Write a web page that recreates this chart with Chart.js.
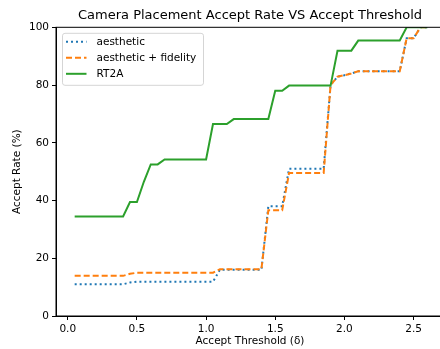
<!DOCTYPE html>
<html>
<head>
<meta charset="utf-8">
<script src="https://cdn.jsdelivr.net/npm/chart.js@4.4.1/dist/chart.umd.min.js"></script>
<style>
  html, body { margin: 0; padding: 0; background: #fff; overflow: hidden; }
  #wrap { width: 448px; height: 349px; }
</style>
</head>
<body>
<div id="wrap"><canvas id="chart" width="448" height="349"></canvas></div>
<script>
// accept threshold values (x)
const thresholds = [0.05, 0.10, 0.15, 0.20, 0.25, 0.30, 0.35, 0.40, 0.45, 0.50,
  0.55, 0.60, 0.65, 0.70, 0.75, 0.80, 0.85, 0.90, 0.95, 1.00,
  1.05, 1.10, 1.15, 1.20, 1.25, 1.30, 1.35, 1.40, 1.45, 1.50,
  1.55, 1.60, 1.65, 1.70, 1.75, 1.80, 1.85, 1.90, 1.95, 2.00,
  2.05, 2.10, 2.15, 2.20, 2.25, 2.30, 2.35, 2.40, 2.45, 2.50,
  2.55, 2.60];

// accept rate (%) per method
const aesthetic = [11.0, 11.0, 11.0, 11.0, 11.0, 11.0, 11.0, 11.0, 11.6, 11.9,
  11.9, 11.9, 11.9, 11.9, 11.9, 11.9, 11.9, 11.9, 11.9, 11.9,
  11.9, 16.0, 16.0, 16.0, 16.0, 16.0, 16.0, 16.0, 38.0, 38.0,
  38.0, 51.0, 51.0, 51.0, 51.0, 51.0, 51.0, 80.0, 82.9, 83.4,
  84.0, 84.8, 84.8, 84.8, 84.8, 84.8, 84.8, 84.8, 96.2, 96.2,
  100, 100];
const aestheticFidelity = [13.9, 13.9, 13.9, 13.9, 13.9, 13.9, 13.9, 13.9, 14.6, 15.0,
  15.0, 15.0, 15.0, 15.0, 15.0, 15.0, 15.0, 15.0, 15.0, 15.0,
  15.0, 16.2, 16.2, 16.2, 16.2, 16.2, 16.2, 16.2, 36.6, 36.6,
  36.6, 49.5, 49.5, 49.5, 49.5, 49.5, 49.5, 80.0, 82.9, 83.4,
  84.0, 84.8, 84.8, 84.8, 84.8, 84.8, 84.8, 84.8, 96.2, 96.2,
  100, 100];
const rt2a = [34.5, 34.5, 34.5, 34.5, 34.5, 34.5, 34.5, 34.5, 39.5, 39.5,
  46.5, 52.5, 52.5, 54.2, 54.2, 54.2, 54.2, 54.2, 54.2, 54.2,
  66.5, 66.5, 66.5, 68.2, 68.2, 68.2, 68.2, 68.2, 68.2, 78.0,
  78.0, 79.8, 79.8, 79.8, 79.8, 79.8, 79.8, 79.8, 91.9, 91.9,
  91.9, 95.4, 95.4, 95.4, 95.4, 95.4, 95.4, 95.4, 100, 100,
  100, 100];

const xTicks = [0.0, 0.5, 1.0, 1.5, 2.0, 2.5];
const yTicks = [0, 20, 40, 60, 80, 100];

const FONT = '"DejaVu Sans", sans-serif';

function points(values) {
  return thresholds.map((x, i) => ({ x: x, y: values[i] }));
}

// box around the plot + legend in the upper left corner
const frameAndLegend = {
  id: 'frameAndLegend',
  afterDatasetsDraw(chart) {
    const { ctx, chartArea } = chart;
    ctx.save();
    ctx.strokeStyle = '#000';
    ctx.lineWidth = 1;
    ctx.strokeRect(chartArea.left, chartArea.top, chartArea.right - chartArea.left, chartArea.bottom - chartArea.top);

    const x0 = chartArea.left + 6.5, y0 = chartArea.top + 6;
    const w = 141, h = 52, r = 2.5;
    ctx.beginPath();
    ctx.roundRect(x0, y0, w, h, r);
    ctx.fillStyle = 'rgba(255,255,255,0.85)';
    ctx.fill();
    ctx.strokeStyle = '#d5d5d5';
    ctx.stroke();

    ctx.font = '10.5px ' + FONT;
    ctx.textBaseline = 'middle';
    chart.data.datasets.forEach((ds, i) => {
      const y = y0 + 8.5 + i * 16;
      ctx.strokeStyle = ds.borderColor;
      ctx.lineWidth = ds.borderWidth;
      ctx.setLineDash(ds.borderDash || []);
      ctx.beginPath();
      ctx.moveTo(x0 + 3.5, y);
      ctx.lineTo(x0 + 24, y);
      ctx.stroke();
      ctx.setLineDash([]);
      ctx.fillStyle = '#000';
      ctx.fillText(ds.label, x0 + 34, y);
    });
    ctx.restore();
  }
};

new Chart(document.getElementById('chart'), {
  type: 'line',
  data: {
    datasets: [
      { label: 'aesthetic', data: points(aesthetic), borderColor: '#1f77b4', borderWidth: 2, borderDash: [2, 3], order: 3 },
      { label: 'aesthetic + fidelity', data: points(aestheticFidelity), borderColor: '#ff7f0e', borderWidth: 2, borderDash: [6, 3], order: 2 },
      { label: 'RT2A', data: points(rt2a), borderColor: '#2ca02c', borderWidth: 2, order: 1 }
    ]
  },
  options: {
    responsive: false,
    animation: false,
    parsing: false,
    elements: { point: { radius: 0 }, line: { tension: 0, fill: false } },
    layout: { padding: { left: 0, right: 4, top: 0, bottom: 0 } },
    plugins: {
      legend: { display: false },
      tooltip: { enabled: false },
      title: {
        display: true,
        fullSize: false,
        text: 'Camera Placement Accept Rate VS Accept Threshold',
        color: '#000',
        font: { family: FONT, size: 13, weight: 'normal' },
        padding: { top: 7.5, bottom: 4.2 }
      }
    },
    scales: {
      x: {
        type: 'linear',
        min: -0.085,
        max: 2.72,
        afterBuildTicks: s => { s.ticks = xTicks.map(v => ({ value: v })); },
        afterFit: s => { s.height = 33; },
        ticks: {
          callback: v => v.toFixed(1),
          color: '#000',
          font: { family: FONT, size: 10.5 },
          padding: 3,
          maxRotation: 0
        },
        grid: { drawOnChartArea: false, drawTicks: true, tickLength: 4, tickColor: '#000' },
        border: { display: true, color: '#000', width: 1 },
        title: {
          display: true,
          text: 'Accept Threshold (δ)',
          color: '#000',
          font: { family: FONT, size: 10.5 },
          padding: { top: 0, bottom: 1.7 }
        }
      },
      y: {
        type: 'linear',
        min: 0,
        max: 100,
        afterBuildTicks: s => { s.ticks = yTicks.map(v => ({ value: v })); },
        afterFit: s => { s.width = 56; },
        ticks: {
          color: '#000',
          font: { family: FONT, size: 10.5 },
          padding: 3
        },
        grid: { drawOnChartArea: false, drawTicks: true, tickLength: 4, tickColor: '#000' },
        border: { display: true, color: '#000', width: 1 },
        title: {
          display: true,
          text: 'Accept Rate (%)',
          color: '#000',
          font: { family: FONT, size: 10.5 },
          padding: { top: 10.7, bottom: 0 }
        }
      }
    }
  },
  plugins: [frameAndLegend]
});
</script>
</body>
</html>
